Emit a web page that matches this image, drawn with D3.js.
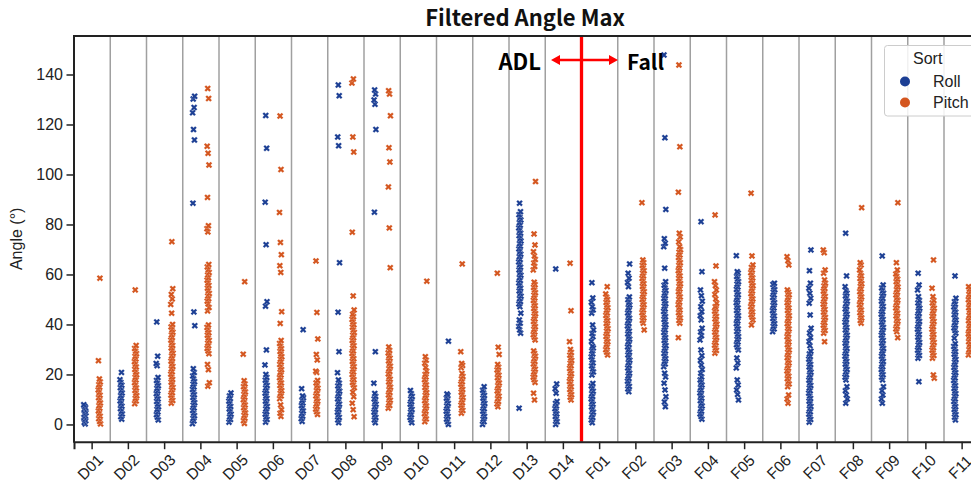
<!DOCTYPE html>
<html><head><meta charset="utf-8">
<script src="https://cdn.jsdelivr.net/npm/d3@7"></script>
<style>body{margin:0;background:#fff;} svg{display:block;}</style>
</head><body>
<svg id="chart" width="971" height="485"></svg>
<script>
const categories = ["D01","D02","D03","D04","D05","D06","D07","D08","D09","D10","D11","D12","D13","D14",
  "F01","F02","F03","F04","F05","F06","F07","F08","F09","F10","F11"];
const yTicks = [0,20,40,60,80,100,120,140];
const seriesNames = ["Roll","Pitch"];
const seriesColors = ["#1c3f94","#d4561f"];
const chartTitle = "Filtered Angle Max";
const yLabel = "Angle (°)";
const legendTitle = "Sort";

const rollValues = [
 [0.2,0.8,1.5,2.1,2.8,3.4,4.1,4.7,5.4,6.0,6.7,7.3,7.9],
 [2.1,3.1,4.2,5.2,6.3,7.3,8.4,9.4,10.5,11.5,12.6,13.6,14.7,15.7,16.8,17.9,20.8],
 [1.8,2.9,3.9,5.0,6.0,7.1,8.1,9.2,10.2,11.3,12.3,13.4,14.4,15.5,16.5,17.6,18.8,23.5,24.4,27.3,41.0],
 [0.3,1.4,2.4,3.5,4.5,5.6,6.6,7.7,8.7,9.8,10.8,11.9,12.9,14.0,15.0,16.1,17.1,18.2,19.4,20.8,22.3,39.5,45.0,88.5,113.8,118.0,124.7,126.8,130.2,131.3],
 [0.9,2.0,3.0,4.1,5.1,6.2,7.2,8.3,9.3,10.4,11.4,12.6],
 [0.9,2.0,3.0,4.1,5.1,6.2,7.2,8.3,9.3,10.4,11.4,12.5,13.5,14.6,15.6,16.7,17.7,18.8,20.0,23.8,29.8,47.3,49.1,71.9,88.9,110.5,123.6],
 [1.2,2.3,3.3,4.4,5.4,6.5,7.5,8.6,9.6,10.7,11.4,14.3,37.9],
 [0.7,1.8,2.8,3.9,4.9,6.0,7.0,8.1,9.1,10.2,11.2,12.3,13.3,14.4,15.4,16.5,17.8,20.7,29.1,44.9,64.7,111.5,115.0,131.5,135.8],
 [0.7,1.8,2.8,3.9,4.9,6.0,7.0,8.1,9.1,10.2,11.2,12.4,16.5,29.1,84.9,118.0,128.1,129.8,132.2,133.8],
 [0.7,1.8,2.8,3.9,4.9,6.0,7.0,8.1,9.1,10.2,11.2,12.3,13.6],
 [0.0,1.1,2.1,3.2,4.2,5.3,6.3,7.4,8.4,9.5,10.5,11.6,12.2,33.3],
 [0.0,1.1,2.1,3.2,4.2,5.3,6.3,7.4,8.4,9.5,10.5,11.6,12.6,13.7,15.1],
 [6.5,36.5,37.8,39.2,40.5,41.8,44.5,47.1,48.2,49.2,50.3,51.3,52.4,53.4,54.5,55.5,56.6,57.6,58.7,59.7,60.8,61.8,62.9,63.9,65.0,66.0,67.1,68.1,69.2,70.2,71.3,72.3,73.4,74.4,75.5,76.5,77.6,78.6,79.7,80.7,81.8,82.8,83.9,85.1,88.5],
 [0.0,1.1,2.1,3.2,4.2,5.3,6.3,7.4,8.4,9.2,12.5,14.3,16.2,62.2],
 [0.7,1.8,2.8,3.9,4.9,6.0,7.0,8.1,9.1,10.2,11.2,12.3,13.3,14.4,15.4,16.4,19.8,21.0,22.2,23.4,24.6,25.8,27.0,28.2,29.4,30.6,31.3,33.2,35.1,36.4,37.8,39.8,44.5,45.8,47.1,48.9,50.6,56.7],
 [13.1,14.2,15.2,16.3,17.3,18.4,19.4,20.5,21.5,22.6,23.6,24.7,25.7,26.8,27.8,28.9,29.9,31.0,32.0,33.1,34.1,35.2,36.2,37.3,38.3,39.4,40.4,41.5,42.5,43.6,44.6,45.7,46.7,47.8,48.8,49.9,51.0,55.1,56.8,58.5,60.5,64.2],
 [7.1,9.0,11.1,13.8,16.5,19.0,20.5,23.1,24.2,25.2,26.3,27.3,28.4,29.4,30.5,31.5,32.6,33.6,34.7,35.7,36.8,37.8,38.9,39.9,41.0,42.0,43.1,44.1,45.2,46.2,47.3,48.3,49.4,50.4,51.5,52.5,53.6,54.6,55.7,57.1,62.5,71.1,72.5,74.3,86.0,114.7,147.8],
 [2.1,3.2,4.2,5.3,6.3,7.4,8.4,9.5,10.5,11.6,12.6,13.7,14.7,15.8,16.8,17.8,19.0,20.5,22.0,23.8,25.6,27.5,29.8,33.8,35.5,37.0,38.5,41.8,43.5,45.1,47.1,49.3,51.5,53.8,61.1,81.1],
 [9.8,12.0,13.8,15.8,17.8,22.6,24.6,26.6,29.8,30.9,31.9,33.0,34.0,35.1,36.1,37.2,38.2,39.3,40.3,41.4,42.4,43.5,44.5,45.6,46.6,47.7,48.7,49.8,50.8,51.9,52.9,54.0,55.0,56.1,57.1,58.2,59.2,60.5,61.1,67.5],
 [37.1,38.2,39.2,40.3,41.3,42.4,43.4,44.5,45.5,46.6,47.6,48.7,49.7,50.8,51.8,52.9,53.9,55.0,56.0,56.5],
 [0.9,2.0,3.0,4.1,5.1,6.2,7.2,8.3,9.3,10.4,11.4,12.5,13.5,14.6,15.6,16.7,17.7,18.8,19.8,20.9,21.9,23.0,24.0,25.1,26.1,27.2,28.2,29.3,31.5,33.2,34.8,36.6,38.5,43.8,48.5,50.5,52.5,54.5,56.5,61.5,69.8],
 [8.5,10.2,11.8,13.5,15.1,17.8,18.9,19.9,21.0,22.0,23.1,24.1,25.2,26.2,27.3,28.3,29.4,30.4,31.5,32.5,33.6,34.6,35.7,36.7,37.8,38.8,39.9,40.9,42.0,43.0,44.1,45.1,46.2,47.2,48.3,49.3,50.4,51.4,52.5,53.5,55.1,59.4,76.5],
 [8.5,10.2,11.8,13.5,15.1,17.8,18.9,19.9,21.0,22.0,23.1,24.1,25.2,26.2,27.3,28.3,29.4,30.4,31.5,32.5,33.6,34.6,35.7,36.7,37.8,38.8,39.9,40.9,42.0,43.0,44.1,45.1,46.2,47.2,48.3,49.3,50.4,51.4,52.5,53.5,54.6,55.8,67.4],
 [17.1,26.5,27.6,28.6,29.7,30.7,31.8,32.8,33.9,34.9,36.0,37.0,38.1,39.1,40.2,41.2,42.3,43.3,44.4,45.4,46.5,47.5,48.6,49.6,51.1,53.8,55.8,60.5],
 [1.8,2.9,3.9,5.0,6.0,7.1,8.1,9.2,10.2,11.3,12.3,13.4,14.4,15.5,16.5,17.6,18.6,19.7,20.7,21.8,22.8,23.9,24.9,26.0,27.0,28.1,29.1,30.2,31.2,32.3,34.5,36.5,37.6,38.6,39.7,40.7,41.8,42.8,43.9,44.9,46.0,47.0,48.1,49.1,50.5,59.4]
];

const pitchValues = [
 [0.2,1.2,2.3,3.3,4.4,5.4,6.5,7.5,8.6,9.6,10.7,11.7,12.8,13.8,14.9,15.9,17.0,18.2,25.5,58.5],
 [8.3,9.4,10.4,11.5,12.5,13.6,14.6,15.7,16.7,17.8,18.8,19.9,20.9,22.0,23.0,24.1,25.1,26.2,27.2,28.3,29.3,30.4,31.6,53.8],
 [8.5,9.6,10.6,11.7,12.7,13.8,14.8,15.9,16.9,18.0,19.0,20.1,21.1,22.2,23.2,24.3,25.3,26.4,27.4,28.5,29.5,30.6,31.6,32.7,33.7,34.8,35.8,36.9,37.9,39.0,40.0,44.5,48.0,50.2,52.0,54.3,73.1],
 [15.3,16.7,21.9,24.0,28.3,29.4,30.4,31.5,32.5,33.6,34.6,35.7,36.7,37.8,38.8,39.8,45.4,46.8,48.2,49.3,50.3,51.4,52.4,53.5,54.5,55.6,56.6,57.7,58.7,59.8,60.8,61.9,63.0,64.0,77.0,78.3,79.5,90.8,103.8,108.5,111.3,130.4,134.4],
 [0.4,1.5,2.5,3.6,4.6,5.7,6.7,7.8,8.8,9.9,10.9,12.0,13.0,14.1,15.1,16.2,17.5,28.1,57.1],
 [3.2,4.5,5.9,7.8,10.3,11.4,12.4,13.5,14.5,15.6,16.6,17.7,18.7,19.8,20.8,21.9,22.9,24.0,25.0,26.1,27.1,28.2,29.2,30.3,31.3,32.4,33.6,40.4,45.1,60.8,63.5,67.9,72.8,84.8,102.0,123.4],
 [4.0,5.1,6.1,7.2,8.2,9.3,10.3,11.4,12.4,13.5,14.5,15.6,16.6,17.6,20.8,21.3,25.8,28.0,34.2,44.8,65.4],
 [3.1,5.9,8.5,11.1,12.9,14.7,15.8,16.8,17.9,18.9,20.0,21.0,22.1,23.1,24.2,25.2,26.3,27.3,28.4,29.4,30.5,31.5,32.6,33.6,34.7,35.7,36.8,37.8,38.9,39.9,41.0,42.0,43.1,44.1,45.8,51.4,76.9,109.0,115.0,136.6,138.2],
 [6.5,7.6,8.6,9.7,10.7,11.8,12.8,13.9,14.9,16.0,17.0,18.1,19.1,20.2,21.2,22.3,23.3,24.4,25.4,26.5,27.5,28.6,29.6,31.0,62.7,78.6,95.0,105.0,110.7,123.5,132.2,133.5],
 [1.1,2.2,3.2,4.3,5.3,6.4,7.4,8.5,9.5,10.6,11.6,12.7,13.7,14.8,15.8,16.9,17.9,19.0,20.0,21.3,22.8,24.5,25.7,27.1,57.3],
 [4.5,5.6,6.6,7.7,8.7,9.8,10.8,11.9,12.9,14.0,15.0,16.1,17.1,18.2,19.2,20.4,22.7,23.6,24.4,29.1,64.2],
 [7.1,8.2,9.2,10.3,11.3,12.4,13.4,14.5,15.5,16.6,17.6,18.7,19.7,20.8,21.8,22.9,24.0,28.0,30.9,60.5],
 [9.8,12.5,16.8,17.9,18.9,20.0,21.0,22.1,23.1,24.2,25.2,26.3,27.3,28.4,29.4,33.8,34.9,35.9,37.0,38.0,39.1,40.1,41.2,42.2,43.3,44.3,45.4,46.4,47.5,48.5,49.6,50.6,51.7,52.7,53.8,54.8,55.9,56.9,61.8,63.2,64.6,66.0,67.4,69.1,71.8,76.2,97.2],
 [9.8,10.9,11.9,13.0,14.0,15.1,16.1,17.2,18.2,19.3,20.3,21.4,22.4,23.5,24.5,25.6,26.6,27.7,28.8,30.0,33.1,45.5,64.5],
 [27.8,28.9,29.9,31.0,32.0,33.1,34.1,35.2,36.2,37.3,38.3,39.4,40.4,41.5,42.5,43.6,44.6,45.7,46.7,47.8,48.8,49.9,50.9,52.2,55.1],
 [37.8,40.5,41.6,42.6,43.7,44.7,45.8,46.8,47.9,48.9,50.0,51.0,52.1,53.1,54.2,55.2,56.3,57.3,58.4,59.4,60.5,61.5,62.6,63.6,64.7,65.8,88.7],
 [34.7,40.5,41.6,42.6,43.7,44.7,45.8,46.8,47.9,48.9,50.0,51.0,52.1,53.1,54.2,55.2,56.3,57.3,58.4,59.4,60.5,61.5,62.6,63.6,64.7,65.7,66.8,67.8,68.9,69.9,71.1,73.0,75.0,76.5,92.9,111.1,143.8],
 [28.5,29.6,30.6,31.7,32.7,33.8,34.8,35.9,36.9,38.0,39.0,40.1,41.1,42.2,43.2,44.3,45.3,46.3,47.1,48.5,50.2,52.0,53.8,55.5,57.1,63.4,83.8],
 [39.8,41.8,42.9,43.9,45.0,46.0,47.1,48.1,49.2,50.2,51.3,52.3,53.4,54.4,55.5,56.5,57.6,58.6,59.7,60.7,61.8,62.8,63.8,67.4,92.5],
 [8.5,10.2,11.8,15.1,16.2,17.2,18.3,19.3,20.4,21.4,22.5,23.5,24.6,25.6,26.7,27.7,28.8,29.8,30.9,31.9,33.0,34.0,35.1,36.1,37.2,38.2,39.3,40.3,41.4,42.4,43.5,44.5,45.6,46.6,47.7,48.7,49.8,50.8,51.9,52.9,53.8,63.8,65.5,67.1],
 [33.1,36.5,37.6,38.6,39.7,40.7,41.8,42.8,43.9,44.9,46.0,47.0,48.1,49.1,50.2,51.2,52.3,53.3,54.4,55.4,56.5,57.8,60.5,61.8,68.7,69.8],
 [40.5,41.6,42.6,43.7,44.7,45.8,46.8,47.9,48.9,50.0,51.0,52.1,53.1,54.2,55.2,56.3,57.3,58.4,59.4,60.5,61.8,63.8,64.7,86.7],
 [34.7,37.1,38.2,39.2,40.3,41.3,42.4,43.4,44.5,45.5,46.6,47.6,48.7,49.7,50.8,51.8,52.9,53.9,55.0,56.0,57.1,58.1,59.2,60.2,61.8,64.7,88.7],
 [18.5,19.8,26.5,27.6,28.6,29.7,30.7,31.8,32.8,33.9,34.9,36.0,37.0,38.1,39.1,40.2,41.2,42.3,43.3,44.4,45.4,46.5,47.5,48.6,49.6,51.1,54.5,65.8],
 [27.8,28.9,29.9,31.0,32.0,33.1,34.1,35.2,36.2,37.3,38.3,39.4,40.4,41.5,42.5,43.6,44.6,45.7,46.7,47.8,48.8,49.9,50.9,52.0,53.0,54.1,55.1]
];

// ---------- layout ----------
const W = 971, H = 485;
const plotLeft = 74, plotTop = 36, plotBottom = 441.7;
const step = 36.25;
const svg = d3.select("#chart");
svg.append("rect").attr("width", W).attr("height", H).attr("fill", "#fff");

const x = d3.scaleBand().domain(categories).range([plotLeft, plotLeft + categories.length * step]).padding(0);
const y = d3.scaleLinear().domain([-6.9, 155.4]).range([plotBottom, plotTop]);
const color = d3.scaleOrdinal().domain(seriesNames).range(seriesColors);
const bw = x.bandwidth();
const cx = c => x(c) + bw / 2;

// category separators
svg.append("g").selectAll("line").data(categories.slice(1)).join("line")
  .attr("x1", c => x(c)).attr("x2", c => x(c))
  .attr("y1", plotTop).attr("y2", plotBottom)
  .attr("stroke", "#a0a0a0").attr("stroke-width", 1.5);

// ADL / Fall divider
const divX = x("F01");
svg.append("line").attr("x1", divX).attr("x2", divX).attr("y1", plotTop).attr("y2", plotBottom)
  .attr("stroke", "#ff0000").attr("stroke-width", 3.3);

// points
const points = [];
[rollValues, pitchValues].forEach((vals, s) => {
  categories.forEach((c, ci) => {
    (vals[ci] || []).forEach((v, i) => {
      const jitter = ((((i + 1) * 0.6180339887 + s * 0.37 + ci * 0.13) % 1) - 0.5) * 2.4;
      points.push({ c, v, s, jitter });
    });
  });
});
const sym = d3.symbol().type(d3.symbolCross).size(27);
svg.append("g").selectAll("path").data(points).join("path")
  .attr("d", sym)
  .attr("transform", d => `translate(${cx(d.c) + (d.s === 0 ? -1 : 1) * bw * 0.2 + d.jitter},${y(d.v)}) rotate(45)`)
  .attr("fill", d => color(seriesNames[d.s]))
  .attr("stroke", "#fff").attr("stroke-width", 0.2);

// axes
const axisColor = "#222";
const xAxis = d3.axisBottom(x).tickSize(7.5).tickFormat(() => "");
const gx = svg.append("g").attr("transform", `translate(0,${plotBottom})`).call(xAxis);
gx.select(".domain").attr("stroke", axisColor).attr("stroke-width", 2);
gx.selectAll(".tick line").attr("stroke", axisColor).attr("stroke-width", 1.5);

// rotated category labels (45 degrees, centred under each tick)
svg.append("g").selectAll("text").data(categories).join("text")
  .attr("transform", c => `translate(${cx(c) - 2},467) rotate(-45)`)
  .attr("dy", "0.35em")
  .attr("text-anchor", "middle")
  .attr("font-family", "'Liberation Sans', Arial, sans-serif").attr("font-size", 15.5)
  .attr("fill", "#222").text(c => c);

const yAxis = d3.axisLeft(y).tickValues(yTicks).tickSize(7.5).tickPadding(3.5);
const gy = svg.append("g").attr("transform", `translate(${plotLeft},0)`).call(yAxis);
gy.select(".domain").remove();
gy.selectAll(".tick line").attr("stroke", axisColor).attr("stroke-width", 1.5);
gy.selectAll(".tick text").attr("font-family", "'Liberation Sans', Arial, sans-serif")
  .attr("font-size", 16).attr("fill", "#222");

// spines
svg.append("line").attr("x1", plotLeft).attr("x2", plotLeft).attr("y1", plotTop - 1).attr("y2", plotBottom + 1)
  .attr("stroke", axisColor).attr("stroke-width", 2);
svg.append("line").attr("x1", plotLeft - 1).attr("x2", W).attr("y1", plotTop).attr("y2", plotTop)
  .attr("stroke", axisColor).attr("stroke-width", 2);

// y label
svg.append("text").attr("transform", `translate(22,${(plotTop + plotBottom) / 2}) rotate(-90)`)
  .attr("text-anchor", "middle").attr("font-family", "'Liberation Sans', Arial, sans-serif")
  .attr("font-size", 16).attr("fill", "#222").text(yLabel);

// title
svg.append("text").attr("x", 525).attr("y", 26).attr("text-anchor", "middle")
  .attr("font-family", "'Noto Sans CJK KR', 'Noto Sans', sans-serif").attr("font-weight", "bold")
  .attr("font-size", 22).attr("fill", "#111").text(chartTitle);

// ADL <-> Fall annotation
const arrowY = 60, aL = 551, aR = 618;
svg.append("line").attr("x1", aL + 6).attr("x2", aR - 6).attr("y1", arrowY).attr("y2", arrowY)
  .attr("stroke", "#ff0000").attr("stroke-width", 2.5);
svg.append("path").attr("d", `M${aL},${arrowY} l9,-5 l0,10 Z M${aR},${arrowY} l-9,-5 l0,10 Z`).attr("fill", "#ff0000");
svg.append("text").attr("x", 541).attr("y", 69.5).attr("text-anchor", "end")
  .attr("font-family", "'Noto Sans CJK KR', 'Noto Sans', sans-serif").attr("font-weight", "bold")
  .attr("font-size", 22).attr("fill", "#000").text("ADL");
svg.append("text").attr("x", 627).attr("y", 69.5).attr("text-anchor", "start")
  .attr("font-family", "'Noto Sans CJK KR', 'Noto Sans', sans-serif").attr("font-weight", "bold")
  .attr("font-size", 21).attr("fill", "#000").text("Fall");

// legend
const lg = svg.append("g");
lg.append("rect").attr("x", 884.5).attr("y", 45.5).attr("width", 110).attr("height", 70.5).attr("rx", 3)
  .attr("fill", "#fff").attr("fill-opacity", 0.85).attr("stroke", "#cccccc").attr("stroke-width", 1);
lg.append("text").attr("x", 913).attr("y", 64).attr("font-family", "'Liberation Sans', Arial, sans-serif")
  .attr("font-size", 16).attr("fill", "#222").text(legendTitle);
seriesNames.forEach((n, i) => {
  lg.append("circle").attr("cx", 905).attr("cy", 81.5 + i * 21).attr("r", 5).attr("fill", color(n));
  lg.append("text").attr("x", 933).attr("y", 87 + i * 21).attr("font-family", "'Liberation Sans', Arial, sans-serif")
    .attr("font-size", 16).attr("fill", "#222").text(n);
});
</script>
</body></html>
